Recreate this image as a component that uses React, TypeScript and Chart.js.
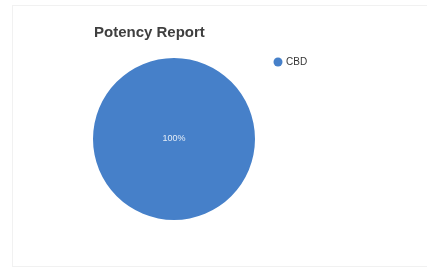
import React, { useEffect, useRef } from "react";
import { Chart, registerables } from "chart.js";

Chart.register(...registerables);

const chartTitle = "Potency Report";
const categories = ["CBD"];
const seriesValues = [100];
const sliceColors = ["#4680c9"];

const FONT = "'Liberation Sans', Arial, sans-serif";

const overlayPlugin = {
  id: "overlay",
  beforeDraw(chart: any) {
    const ctx = chart.ctx;
    ctx.save();
    ctx.fillStyle = "#ffffff";
    ctx.fillRect(0, 0, chart.width, chart.height);
    ctx.strokeStyle = "#f1f1f1";
    ctx.lineWidth = 1;
    ctx.strokeRect(12.5, 5.5, chart.width, 261);
    ctx.restore();
  },
  afterDraw(chart: any) {
    const ctx = chart.ctx;
    ctx.save();
    // title
    ctx.font = `bold 15px ${FONT}`;
    ctx.fillStyle = "#3f3f3f";
    ctx.textBaseline = "alphabetic";
    ctx.textAlign = "left";
    ctx.fillText(chartTitle, 94, 37);
    // legend
    const labels = chart.data.labels as string[];
    labels.forEach((lab: string, i: number) => {
      const y = 62 + i * 16;
      ctx.beginPath();
      ctx.fillStyle = sliceColors[i % sliceColors.length];
      ctx.arc(278, y, 4.5, 0, Math.PI * 2);
      ctx.fill();
      ctx.font = `10px ${FONT}`;
      ctx.fillStyle = "#333333";
      ctx.textBaseline = "middle";
      ctx.fillText(lab, 286, y);
    });
    // slice labels
    const meta = chart.getDatasetMeta(0);
    const total = seriesValues.reduce((a, b) => a + b, 0);
    meta.data.forEach((arc: any, i: number) => {
      const pct = Math.round((seriesValues[i] / total) * 100) + "%";
      let x: number, y: number;
      if (seriesValues[i] === total) {
        x = arc.x;
        y = arc.y;
      } else {
        const p = arc.tooltipPosition();
        x = p.x;
        y = p.y;
      }
      ctx.font = `9px ${FONT}`;
      ctx.fillStyle = "#e4ecf7";
      ctx.textAlign = "center";
      ctx.textBaseline = "middle";
      ctx.fillText(pct, x, y);
    });
    ctx.restore();
  },
};

export default function App() {
  const ref = useRef<HTMLCanvasElement>(null);
  useEffect(() => {
    if (!ref.current) return;
    const chart = new Chart(ref.current, {
      type: "pie",
      data: {
        labels: categories,
        datasets: [
          {
            data: seriesValues,
            backgroundColor: sliceColors,
            borderWidth: 0,
          },
        ],
      },
      options: {
        animation: false,
        responsive: false,
        layout: { padding: { left: 93, top: 58, right: 172, bottom: 51 } },
        plugins: {
          legend: { display: false },
          title: { display: false },
          tooltip: { enabled: false },
        },
      },
      plugins: [overlayPlugin],
    });
    return () => chart.destroy();
  }, []);
  return (
    <div style={{ position: "absolute", left: 0, top: 0, width: 427, height: 271, background: "#fff" }}>
      <canvas ref={ref} width={427} height={271} style={{ display: "block" }} />
    </div>
  );
}
